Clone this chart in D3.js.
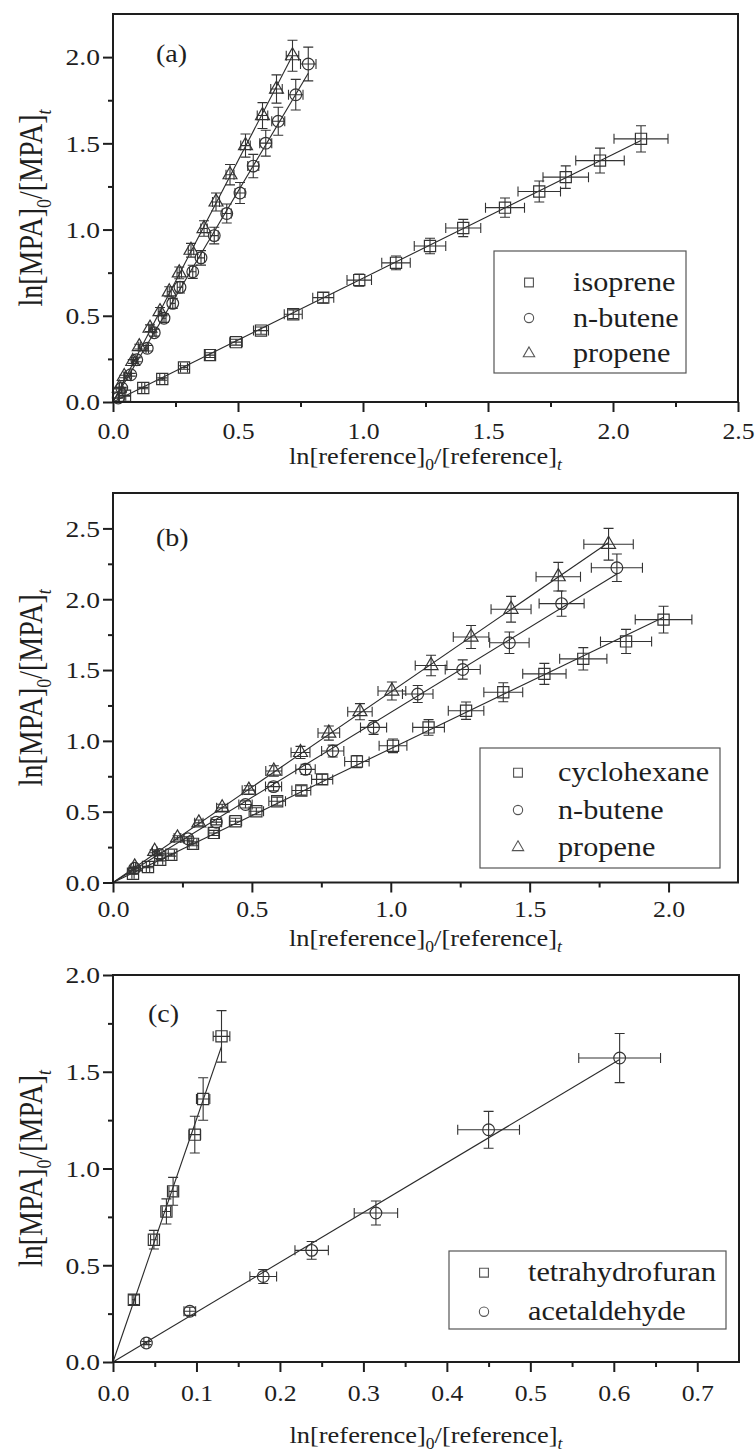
<!DOCTYPE html>
<html><head><meta charset="utf-8">
<script src="https://cdn.jsdelivr.net/npm/d3@7"></script>
<style>
html,body{margin:0;padding:0;background:#fff;}
svg{display:block;}
</style></head><body>
<svg id="chart" width="756" height="1452" font-family="Liberation Serif"></svg>
<script>
// ---------- Panel (a) ----------
const aIsopreneX = [0.048,0.121,0.197,0.284,0.388,0.492,0.592,0.721,0.841,0.985,1.132,1.268,1.401,1.568,1.705,1.811,1.948,2.112];
const aIsopreneY = [0.036,0.081,0.133,0.200,0.272,0.347,0.414,0.509,0.605,0.707,0.807,0.905,1.009,1.127,1.221,1.304,1.400,1.526];
const aIsopreneXErr = [0.003,0.006,0.010,0.014,0.019,0.025,0.030,0.036,0.042,0.049,0.057,0.063,0.070,0.078,0.085,0.091,0.097,0.108];
const aIsopreneYErr = [0.002,0.004,0.007,0.010,0.014,0.017,0.021,0.025,0.030,0.035,0.040,0.045,0.050,0.056,0.061,0.065,0.072,0.076];

const aButeneX = [0.021,0.035,0.071,0.095,0.137,0.165,0.204,0.239,0.268,0.319,0.352,0.405,0.455,0.508,0.561,0.611,0.661,0.731,0.781];
const aButeneY = [0.023,0.081,0.158,0.245,0.312,0.402,0.486,0.572,0.665,0.755,0.836,0.965,1.093,1.212,1.368,1.501,1.628,1.782,1.960];
const aButeneXErr = [0.001,0.001,0.003,0.004,0.005,0.007,0.008,0.010,0.011,0.013,0.014,0.016,0.018,0.020,0.022,0.024,0.026,0.029,0.031];
const aButeneYErr = [0.001,0.004,0.008,0.012,0.016,0.020,0.024,0.029,0.033,0.038,0.042,0.048,0.055,0.061,0.068,0.075,0.081,0.089,0.098];

const aPropeneX = [0.025,0.045,0.079,0.105,0.148,0.188,0.225,0.265,0.312,0.364,0.412,0.468,0.530,0.598,0.654,0.718];
const aPropeneY = [0.081,0.148,0.235,0.321,0.428,0.524,0.639,0.749,0.880,1.006,1.160,1.318,1.487,1.661,1.815,2.008];
const aPropeneXErr = [0.001,0.002,0.003,0.004,0.005,0.007,0.008,0.009,0.011,0.013,0.014,0.016,0.019,0.021,0.023,0.025];
const aPropeneYErr = [0.004,0.007,0.011,0.014,0.019,0.024,0.029,0.034,0.040,0.045,0.052,0.059,0.067,0.075,0.082,0.090];

const aXTicks = [0.0,0.5,1.0,1.5,2.0,2.5];
const aYTicks = [0.0,0.5,1.0,1.5,2.0];
const aLegend = ["isoprene","n-butene","propene"];

// ---------- Panel (b) ----------
const bCycloX = [0.072,0.126,0.170,0.210,0.288,0.363,0.441,0.516,0.591,0.678,0.753,0.878,1.008,1.136,1.271,1.405,1.553,1.693,1.847,1.982];
const bCycloY = [0.062,0.109,0.161,0.196,0.273,0.350,0.432,0.503,0.574,0.650,0.728,0.854,0.965,1.095,1.213,1.343,1.473,1.579,1.702,1.856];
const bCycloXErr = [0.004,0.006,0.009,0.011,0.014,0.018,0.022,0.026,0.030,0.034,0.038,0.044,0.050,0.057,0.064,0.070,0.078,0.085,0.092,0.102];
const bCycloYErr = [0.003,0.005,0.008,0.010,0.014,0.018,0.022,0.025,0.029,0.033,0.036,0.043,0.048,0.055,0.061,0.067,0.074,0.079,0.085,0.094];

const bButeneX = [0.078,0.168,0.270,0.372,0.477,0.578,0.693,0.791,0.938,1.097,1.259,1.427,1.615,1.814];
const bButeneY = [0.100,0.198,0.309,0.426,0.551,0.677,0.799,0.928,1.095,1.331,1.504,1.693,1.969,2.222];
const bButeneXErr = [0.004,0.008,0.014,0.019,0.024,0.029,0.035,0.040,0.047,0.055,0.063,0.071,0.081,0.092];
const bButeneYErr = [0.005,0.009,0.014,0.019,0.025,0.030,0.036,0.042,0.049,0.060,0.068,0.076,0.089,0.097];

const bPropeneX = [0.078,0.150,0.232,0.309,0.393,0.489,0.579,0.675,0.777,0.889,1.004,1.145,1.289,1.433,1.603,1.784];
const bPropeneY = [0.110,0.220,0.315,0.421,0.527,0.652,0.787,0.918,1.055,1.206,1.352,1.532,1.733,1.929,2.159,2.388];
const bPropeneXErr = [0.004,0.008,0.012,0.015,0.020,0.024,0.029,0.034,0.039,0.044,0.050,0.057,0.064,0.072,0.080,0.089];
const bPropeneYErr = [0.005,0.010,0.015,0.020,0.025,0.031,0.037,0.043,0.050,0.057,0.064,0.072,0.081,0.091,0.101,0.112];

const bXTicks = [0.0,0.5,1.0,1.5,2.0];
const bYTicks = [0.0,0.5,1.0,1.5,2.0,2.5];
const bLegend = ["cyclohexane","n-butene","propene"];

// ---------- Panel (c) ----------
const cThfX = [0.025,0.049,0.064,0.072,0.098,0.108,0.130];
const cThfY = [0.322,0.632,0.778,0.882,1.175,1.359,1.683];
const cThfXErr = [0.002,0.004,0.005,0.005,0.007,0.008,0.010];
const cThfYErr = [0.025,0.048,0.065,0.072,0.095,0.110,0.133];

const cAcetX = [0.040,0.092,0.180,0.238,0.315,0.450,0.607];
const cAcetY = [0.098,0.262,0.442,0.577,0.770,1.200,1.571];
const cAcetXErr = [0.003,0.007,0.016,0.020,0.026,0.037,0.049];
const cAcetYErr = [0.008,0.021,0.036,0.046,0.062,0.095,0.127];

const cXTicks = [0.0,0.1,0.2,0.3,0.4,0.5,0.6,0.7];
const cYTicks = [0.0,0.5,1.0,1.5,2.0];
const cLegend = ["tetrahydrofuran","acetaldehyde"];

// ---------- drawing ----------
const FONT = "Liberation Serif";
const svg = d3.select("#chart");
const INK = "#1e1e1e";
const MARK = "#333";
const fmt = d3.format(".1f");

const symbolOf = {
  square: d3.symbolSquare,
  circle: d3.symbolCircle,
  triangle: d3.symbolTriangle
};
const markerSize = {square: 125, circle: 108, triangle: 84};
const legendSize = {square: 78, circle: 68, triangle: 56};

function mkSeries(name, shape, xs, ys, xe, ye) {
  return {name, shape, pts: xs.map((v,i)=>({x:v, y:ys[i], xe:xe[i], ye:ye[i]}))};
}

function midMinors(ticks, max) {
  const out = [];
  const step = ticks[1]-ticks[0];
  for (let i=0;i<ticks.length;i++) {
    const m = ticks[i] + step/2;
    if (m < max - 1e-9) out.push(m);
  }
  return out;
}

function drawPanel(p) {
  const x = d3.scaleLinear().domain([0,p.xMax]).range([p.left,p.right]);
  const y = d3.scaleLinear().domain([0,p.yMax]).range([p.bottom,p.top]);
  const g = svg.append("g");

  // fit lines (least squares through the origin), drawn to the last point
  p.series.forEach(s=>{
    const sxy = d3.sum(s.pts, d=>d.x*d.y), sxx = d3.sum(s.pts, d=>d.x*d.x);
    const k = sxy/sxx, xm = d3.max(s.pts, d=>d.x);
    g.append("line")
      .attr("x1",x(0)).attr("y1",y(0)).attr("x2",x(xm)).attr("y2",y(k*xm))
      .attr("stroke","#2a2a2a").attr("stroke-width",1.1);
  });

  // error bars
  const cap = 5;
  p.series.forEach(s=>{
    const eg = g.append("g").attr("stroke",MARK).attr("stroke-width",1.1).attr("fill","none");
    s.pts.forEach(d=>{
      const cx = x(d.x), cy = y(d.y);
      const x0 = x(d.x-d.xe), x1 = x(d.x+d.xe), y0 = y(d.y-d.ye), y1 = y(d.y+d.ye);
      eg.append("path").attr("d",
        `M${x0},${cy}H${x1}M${x0},${cy-cap}V${cy+cap}M${x1},${cy-cap}V${cy+cap}` +
        `M${cx},${y0}V${y1}M${cx-cap},${y0}H${cx+cap}M${cx-cap},${y1}H${cx+cap}`);
    });
  });

  // markers
  p.series.forEach(s=>{
    g.append("g").selectAll("path").data(s.pts).join("path")
      .attr("transform", d=>`translate(${x(d.x)},${y(d.y)})`)
      .attr("d", d3.symbol().type(symbolOf[s.shape]).size(markerSize[s.shape]))
      .attr("fill","none").attr("stroke",MARK).attr("stroke-width",1.2);
  });

  // axes
  const xa = g.append("g").attr("transform",`translate(0,${p.bottom})`)
    .call(d3.axisBottom(x).tickValues(p.xTicks).tickSize(10).tickFormat(fmt));
  xa.selectAll(".tick text").attr("dy",null).attr("y",p.xLabelOff)
    .attr("transform","scale(1.12,1)");
  const xm = g.append("g").attr("transform",`translate(0,${p.bottom})`)
    .call(d3.axisBottom(x).tickValues(midMinors(p.xTicks,p.xMax)).tickSize(5).tickFormat(""));
  const ya = g.append("g").attr("transform",`translate(${p.left},0)`)
    .call(d3.axisLeft(y).tickValues(p.yTicks).tickSize(10).tickFormat(fmt));
  ya.selectAll(".tick text").attr("dy","0.34em").attr("x",-13/1.2)
    .attr("transform","scale(1.2,1)");
  const ym = g.append("g").attr("transform",`translate(${p.left},0)`)
    .call(d3.axisLeft(y).tickValues(midMinors(p.yTicks,p.yMax)).tickSize(5).tickFormat(""));
  [xa,xm,ya,ym].forEach(a=>{
    a.attr("font-family",FONT).attr("font-size",23);
    a.select(".domain").remove();
    a.selectAll(".tick line").attr("stroke",INK).attr("stroke-width",2);
    a.selectAll(".tick text").attr("fill",INK);
  });

  // frame
  g.append("rect").attr("x",p.left).attr("y",p.top)
    .attr("width",p.right-p.left).attr("height",p.bottom-p.top)
    .attr("fill","none").attr("stroke",INK).attr("stroke-width",2);

  // panel label
  g.append("text").attr("transform",`translate(${p.label[1]},${p.label[2]}) scale(1.12,1)`)
    .attr("font-family",FONT).attr("font-size",25).attr("fill",INK).text(p.label[0]);

  // x title
  const xt = g.append("text")
    .attr("transform",`translate(${(p.left+p.right)/2},${p.xTitleY}) scale(1.1,1)`)
    .attr("text-anchor","middle").attr("font-family",FONT).attr("font-size",24).attr("fill",INK);
  xt.append("tspan").text("ln[reference]");
  xt.append("tspan").attr("dy",6).attr("font-size",16).text("0");
  xt.append("tspan").attr("dy",-6).text("/[reference]");
  xt.append("tspan").attr("dy",6).attr("font-size",16).attr("font-style","italic").text("t");

  // y title
  const yt = g.append("text")
    .attr("transform",`translate(42,${(p.top+p.bottom)/2}) rotate(-90) scale(1,1.22)`)
    .attr("text-anchor","middle").attr("font-family",FONT).attr("font-size",28).attr("fill",INK);
  yt.append("tspan").text("ln[MPA]");
  yt.append("tspan").attr("dy",7).attr("font-size",18).text("0");
  yt.append("tspan").attr("dy",-7).text("/[MPA]");
  yt.append("tspan").attr("dy",7).attr("font-size",18).attr("font-style","italic").text("t");

  // legend
  const L = p.legend;
  g.append("rect").attr("x",L.x0).attr("y",L.y0).attr("width",L.x1-L.x0).attr("height",L.y1-L.y0)
    .attr("fill","#fff").attr("stroke","#555").attr("stroke-width",1.2);
  p.series.forEach((s,i)=>{
    const cy = L.row0 + i*L.dy;
    g.append("path").attr("transform",`translate(${L.symX},${cy})`)
      .attr("d", d3.symbol().type(symbolOf[s.shape]).size(legendSize[s.shape]))
      .attr("fill","none").attr("stroke","#555").attr("stroke-width",1.1);
    g.append("text").attr("transform",`translate(${L.textX},${cy+8.5}) scale(1.12,1)`)
      .attr("font-family",FONT).attr("font-size",27).attr("fill",INK).text(p.names[i]);
  });
}

drawPanel({
  left:113, right:738, top:14, bottom:402, xMax:2.5, yMax:2.25,
  xTicks:aXTicks, yTicks:aYTicks, xLabelOff:37, xTitleY:464,
  label:["(a)",156,62],
  names:aLegend,
  series:[
    mkSeries("isoprene","square",aIsopreneX,aIsopreneY,aIsopreneXErr,aIsopreneYErr),
    mkSeries("n-butene","circle",aButeneX,aButeneY,aButeneXErr,aButeneYErr),
    mkSeries("propene","triangle",aPropeneX,aPropeneY,aPropeneXErr,aPropeneYErr)
  ],
  legend:{x0:494,x1:686,y0:251,y1:373,symX:529,textX:573,row0:282.5,dy:35.5}
});

drawPanel({
  left:113, right:738, top:493, bottom:882.5, xMax:2.25, yMax:2.75,
  xTicks:bXTicks, yTicks:bYTicks, xLabelOff:35, xTitleY:946,
  label:["(b)",156,546],
  names:bLegend,
  series:[
    mkSeries("cyclohexane","square",bCycloX,bCycloY,bCycloXErr,bCycloYErr),
    mkSeries("n-butene","circle",bButeneX,bButeneY,bButeneXErr,bButeneYErr),
    mkSeries("propene","triangle",bPropeneX,bPropeneY,bPropeneXErr,bPropeneYErr)
  ],
  legend:{x0:480,x1:720,y0:748,y1:868,symX:518,textX:558,row0:772.7,dy:37.3}
});

drawPanel({
  left:113, right:739, top:975, bottom:1362, xMax:0.75, yMax:2.0,
  xTicks:cXTicks, yTicks:cYTicks, xLabelOff:39, xTitleY:1443,
  label:["(c)",148,1022],
  names:cLegend,
  series:[
    mkSeries("tetrahydrofuran","square",cThfX,cThfY,cThfXErr,cThfYErr),
    mkSeries("acetaldehyde","circle",cAcetX,cAcetY,cAcetXErr,cAcetYErr)
  ],
  legend:{x0:449,x1:726,y0:1251,y1:1329,symX:484,textX:528,row0:1272.7,dy:39}
});
</script>
</body></html>
